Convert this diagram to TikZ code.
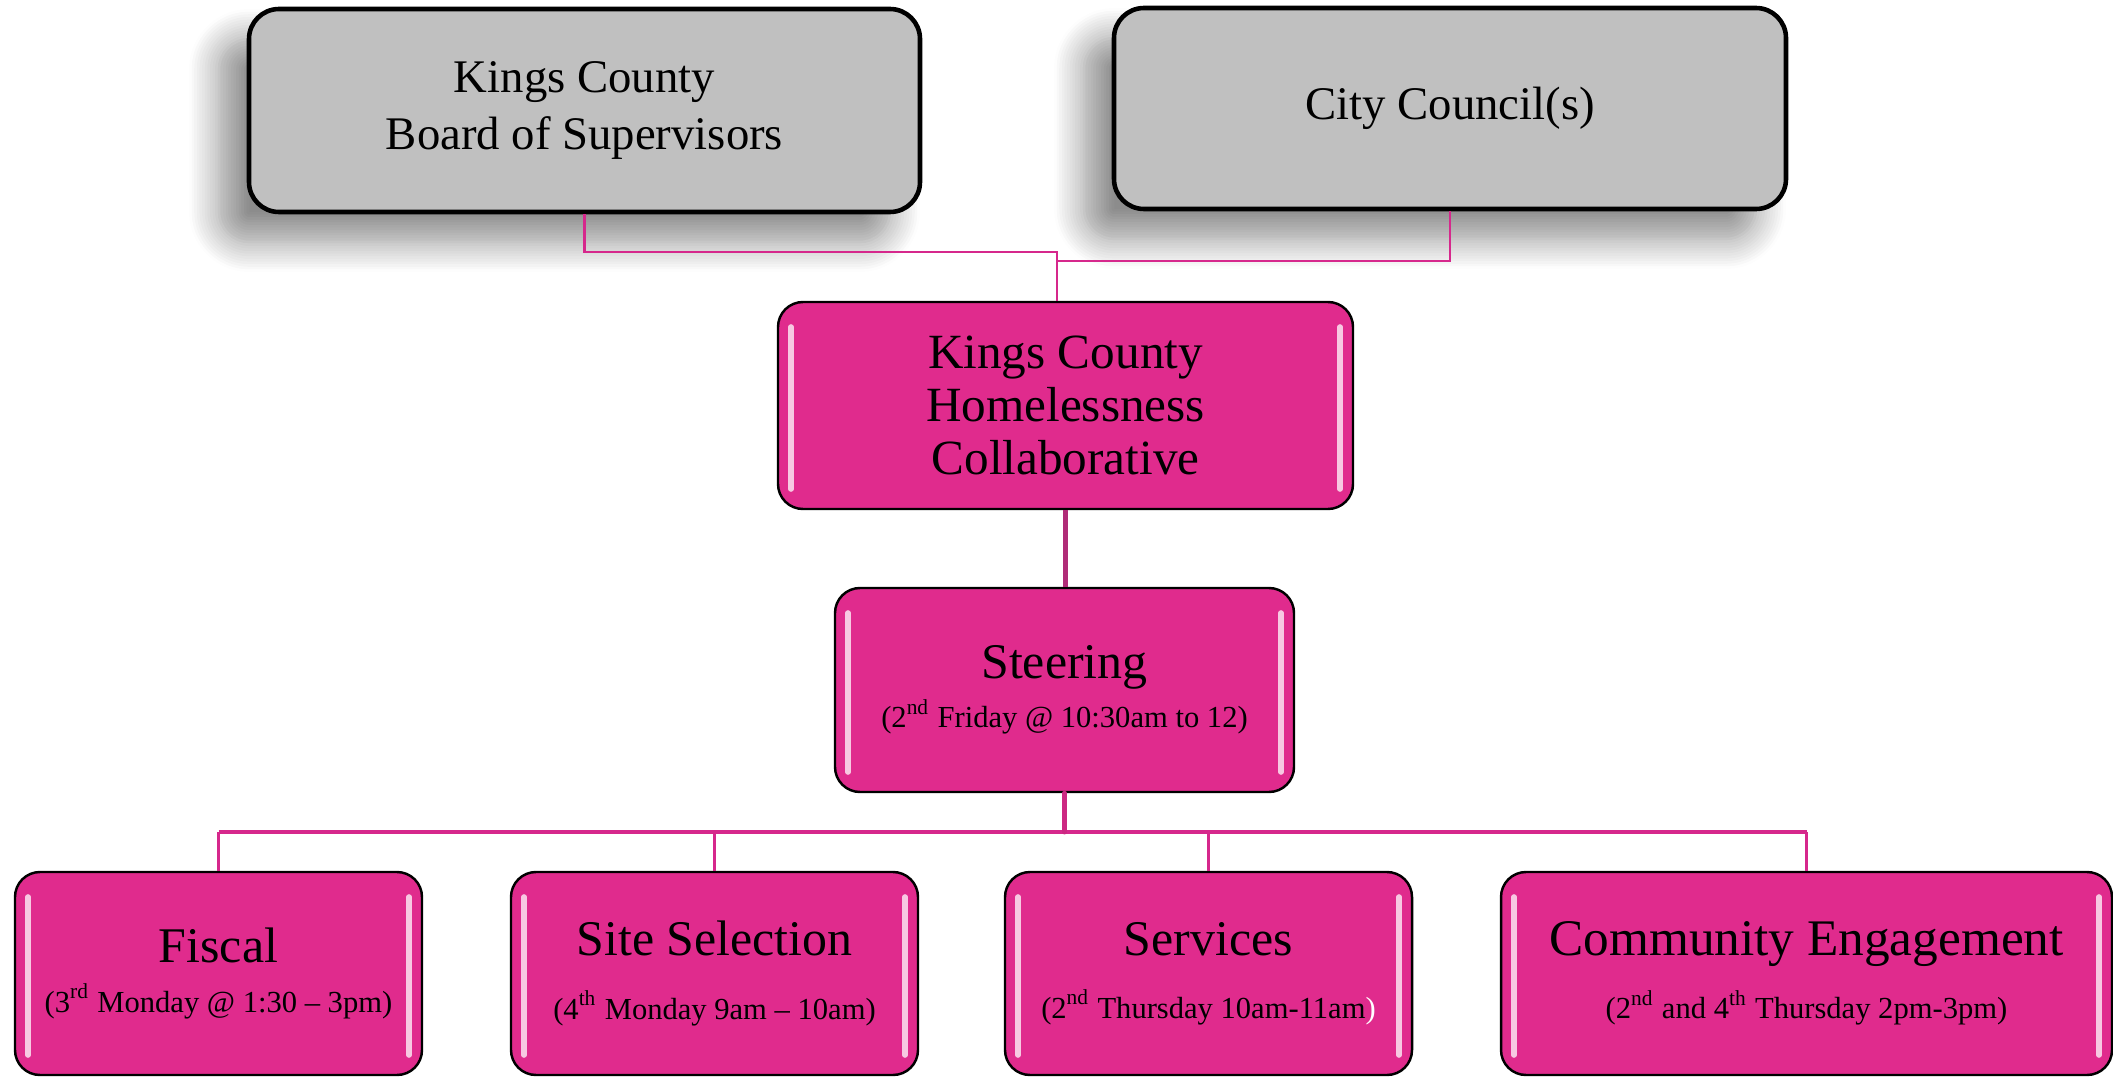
\documentclass[tikz,border=0pt]{standalone}
\usepackage{fontspec}
\setmainfont{Liberation Serif}
\usetikzlibrary{shadows.blur}
\definecolor{boxpink}{RGB}{224,43,141}
\definecolor{boxgray}{RGB}{192,192,192}
\definecolor{linkpink}{RGB}{214,40,140}
\definecolor{trunkpink}{RGB}{176,44,120}
\definecolor{stempink}{RGB}{204,40,130}
\begin{document}
\begin{tikzpicture}[
    govbox/.style={rectangle, rounded corners=0.3cm, draw=black, line width=1.3pt, fill=boxgray,
        inner sep=0pt, align=center, font=\fontsize{13.3}{16.5}\selectfont,
        blur shadow={shadow xshift=-0.3cm, shadow yshift=-0.3cm, shadow blur radius=0.3cm,
            shadow blur steps=12, shadow opacity=45}},
    gloss/.style={white, opacity=0.75, line width=1.6pt, line cap=round},
    orgbox/.style={rectangle, rounded corners=0.25cm, draw=black, line width=0.7pt, fill=boxpink,
        inner sep=0pt, align=center,
        path picture={
            \draw[gloss] ([xshift=0.13cm,yshift=-0.25cm]path picture bounding box.north west)
                -- ([xshift=0.13cm,yshift=0.2cm]path picture bounding box.south west);
            \draw[gloss] ([xshift=-0.13cm,yshift=-0.25cm]path picture bounding box.north east)
                -- ([xshift=-0.13cm,yshift=0.2cm]path picture bounding box.south east);
        }},
    link/.style={draw=linkpink, line width=0.6pt},
    bus/.style={draw=linkpink, line width=1.1pt},
    stem/.style={draw=stempink, line width=1.4pt, line cap=round},
    trunk/.style={draw=trunkpink, line width=1.5pt}
]
    \useasboundingbox (0,0) rectangle (21.13,-10.77);

    % top row
    \node (bos) at (5.845,-1.105) [govbox, minimum width=6.71cm, minimum height=2.03cm]
        {Kings County\\Board of  Supervisors};
    \node (cc) at (14.50,-1.085) [govbox, minimum width=6.72cm, minimum height=2.01cm]
        {City Council(s)};

    % collaborative and steering
    \node (khc) at (10.655,-4.055) [orgbox, minimum width=5.75cm, minimum height=2.07cm,
        font=\fontsize{14}{15}\selectfont]
        {Kings County\\Homelessness\\Collaborative};
    \node (st) at (10.645,-6.90) [orgbox, minimum width=4.59cm, minimum height=2.04cm]
        {\fontsize{14.2}{17}\selectfont Steering\\[2pt]
         \fontsize{8.7}{10}\selectfont (2\textsuperscript{nd} Friday @ 10:30am to 12)};

    % committees
    \node (fi) at (2.185,-9.735) [orgbox, minimum width=4.07cm, minimum height=2.03cm]
        {\fontsize{14.2}{17}\selectfont Fiscal\\[2pt]
         \fontsize{8.7}{10}\selectfont (3\textsuperscript{rd} Monday @ 1:30 – 3pm)};
    \node (ss) at (7.145,-9.735) [orgbox, minimum width=4.07cm, minimum height=2.03cm]
        {\fontsize{14.2}{17}\selectfont Site Selection\\[6pt]
         \fontsize{8.7}{10}\selectfont (4\textsuperscript{th} Monday 9am – 10am)};
    \node (sv) at (12.085,-9.735) [orgbox, minimum width=4.07cm, minimum height=2.03cm]
        {\fontsize{14.2}{17}\selectfont Services\\[6pt]
         \fontsize{8.7}{10}\selectfont (2\textsuperscript{nd} Thursday 10am-11am\textcolor{white}{)}};
    \node (ce) at (18.065,-9.735) [orgbox, minimum width=6.11cm, minimum height=2.03cm]
        {\fontsize{14.6}{17}\selectfont Community Engagement\\[6pt]
         \fontsize{8.7}{10}\selectfont (2\textsuperscript{nd} and 4\textsuperscript{th} Thursday 2pm-3pm)};

    % connectors
    \coordinate (j1) at (10.57,-2.52);
    \coordinate (j2) at (10.57,-2.61);
    \coordinate (b1) at (0,-8.32);
    \draw[link] (bos.south) |- (j1) -- (j1 |- khc.north);
    \draw[link] (cc.south) |- (j2);
    \draw[trunk] (khc.south) -- (khc.south |- st.north);
    \draw[bus] (b1 -| fi.north) -- (b1 -| ce.north);
    \foreach \b in {fi,ss,sv,ce}
        \draw[bus] (b1 -| \b.north) -- (\b.north);
    \draw[stem] (st.south) -- (st.south |- b1);
\end{tikzpicture}
\end{document}
